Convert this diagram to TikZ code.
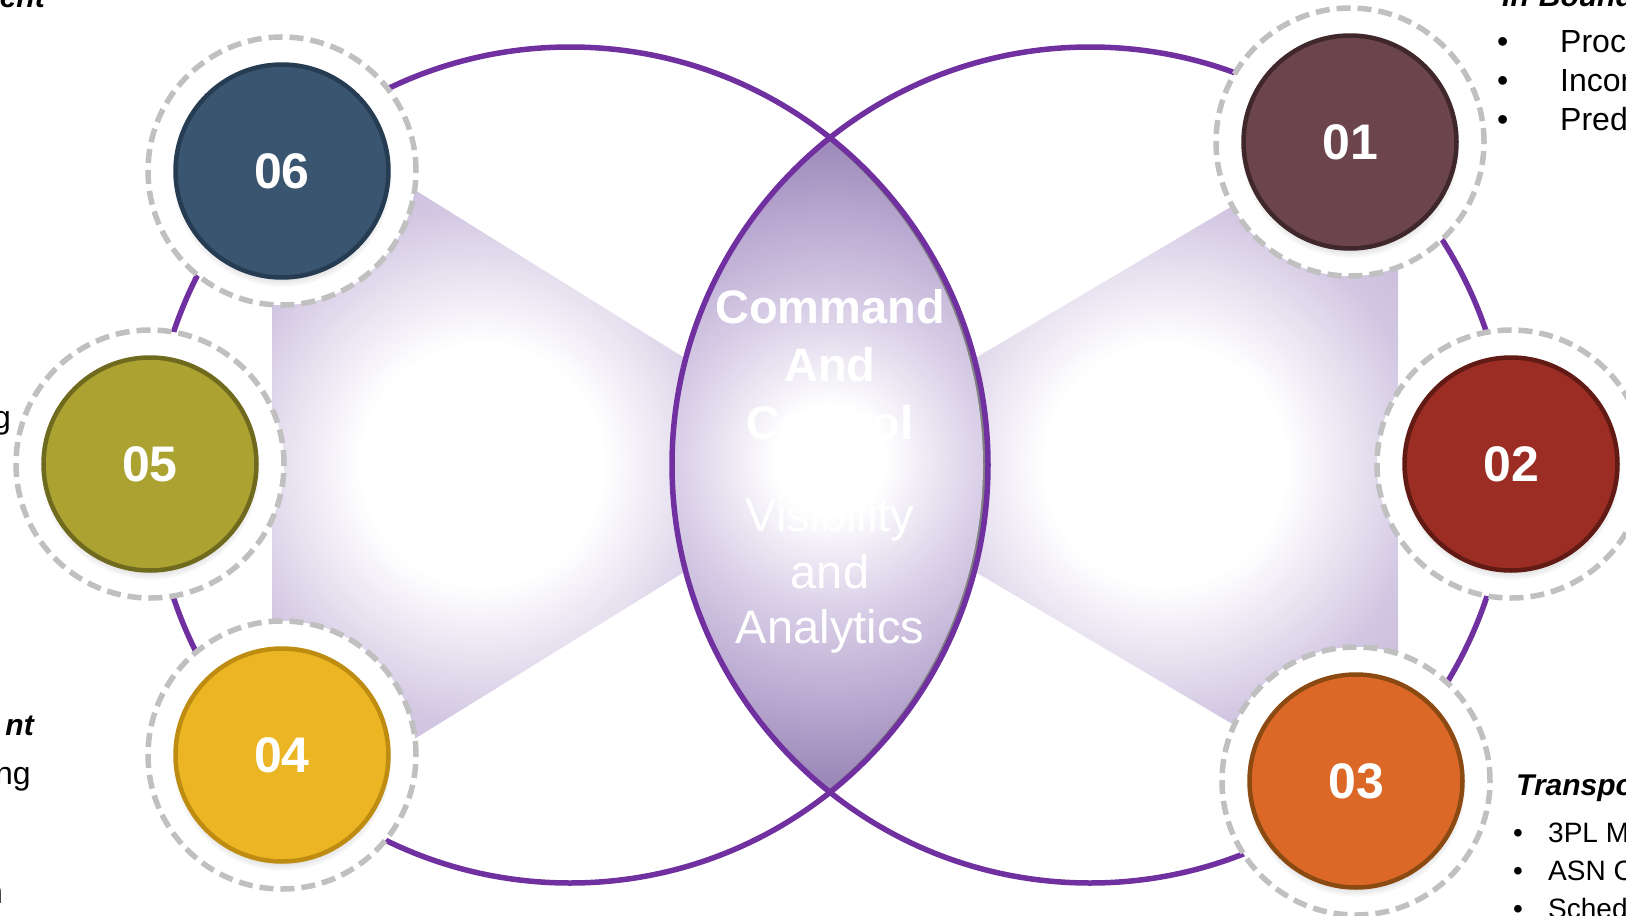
\documentclass[tikz,border=0pt]{standalone}
\usepackage{fontspec}
\setmainfont{Liberation Sans}
\usetikzlibrary{shadows,fadings}
\definecolor{purp}{HTML}{7030A0}
\definecolor{ringgray}{HTML}{C0C0C0}
\definecolor{lensgray}{HTML}{808080}
\definecolor{lensA}{HTML}{DAD0E8}
\definecolor{lensB}{HTML}{B9A8D0}
\definecolor{lensC}{HTML}{9480B3}
\definecolor{trapA}{HTML}{ECE7F3}
\definecolor{trapB}{HTML}{D2C7E2}
\definecolor{trapC}{HTML}{BBAAD1}
\definecolor{cA}{HTML}{6B454B}\definecolor{cAb}{HTML}{40272B}
\definecolor{cB}{HTML}{9C2D24}\definecolor{cBb}{HTML}{611A14}
\definecolor{cC}{HTML}{DC6828}\definecolor{cCb}{HTML}{8B4A12}
\definecolor{cD}{HTML}{EBB524}\definecolor{cDb}{HTML}{BE8C10}
\definecolor{cE}{HTML}{ABA232}\definecolor{cEb}{HTML}{6F6A1E}
\definecolor{cF}{HTML}{3A5570}\definecolor{cFb}{HTML}{263C52}
\pgfdeclareradialshading{lensshade}{\pgfpoint{0bp}{0bp}}{color(0bp)=(white); color(4bp)=(white); color(11bp)=(lensA); color(18bp)=(lensB); color(25bp)=(lensC); color(50bp)=(lensC)}
\pgfdeclareradialshading{trapshade}{\pgfpoint{0bp}{0bp}}{color(0bp)=(white); color(7bp)=(white); color(10.5bp)=(trapA); color(15bp)=(trapB); color(25bp)=(trapC); color(50bp)=(trapC)}
\begin{document}
\begin{tikzpicture}[x=1pt,y=-1pt,
  ring/.style={circle, draw=ringgray, fill=white, line width=5.5pt, dash pattern=on 14pt off 7pt, minimum size=268pt, inner sep=0pt},
  numcirc/.style={circle, line width=4.5pt, minimum size=213pt, inner sep=0pt, text=white,
    font=\fontsize{50}{60}\selectfont\bfseries,
    circular drop shadow={shadow xshift=0pt, shadow yshift=-6pt, shadow scale=1.03, opacity=0.45}},
  big/.style={draw=purp, line width=5.5pt},
  lenstitle/.style={text=white, font=\fontsize{47}{56}\selectfont\bfseries, inner sep=0pt, anchor=base},
  lenssub/.style={text=white, font=\fontsize{47}{56}\selectfont, inner sep=0pt, anchor=base},
  side/.style={text=black, font=\fontsize{32}{38}\selectfont, inner sep=0pt},
  sidesmall/.style={text=black, font=\fontsize{28}{34}\selectfont, inner sep=0pt},
  sidehead/.style={text=black, font=\fontsize{30}{36}\selectfont\bfseries\itshape, inner sep=0pt},
]
\useasboundingbox (0,0) rectangle (1626,916);
\clip (0,0) rectangle (1626,916);

% shaded bow-tie shapes
\begin{scope}
  \clip (272,101) -- (720,380) -- (720,550) -- (272,827) -- cycle;
  \shade[shading=trapshade] (482,465) circle (430pt);
\end{scope}
\begin{scope}
  \clip (1398,108) -- (940,379) -- (940,551) -- (1398,822) -- cycle;
  \shade[shading=trapshade] (1165,465) circle (430pt);
\end{scope}

% lens
\begin{scope}
  \clip (570,465) circle (418pt);
  \clip (1090,465) circle (418pt);
  \fill[lensgray] (600,100) rectangle (1060,830);
  \begin{scope}[xshift=-5pt]
    \clip (570,465) circle (418pt);
    \clip (1090,465) circle (418pt);
    \shade[shading=lensshade] (835,460) circle (340pt);
  \end{scope}
\end{scope}

% big circles
\coordinate (lc) at (570,465);
\coordinate (rc) at (1090,465);
\draw[big] (lc) circle (418pt);
\draw[big] (rc) circle (418pt);

% lens text
\node[lenstitle] (t1) at (830,323) {Command};
\node[lenstitle] (t2) at (830,381) {And};
\node[lenstitle] (t3) at (830,439) {Control};
\node[lenssub] (s1) at (830,531) {Visibility};
\node[lenssub] (s2) at (830,588) {and};
\node[lenssub] (s3) at (830,643) {Analytics};

% rings
\node[ring] (r1) at (1350,142) {};
\node[ring] (r2) at (1511,464) {};
\node[ring] (r3) at (1356,781) {};
\node[ring] (r4) at (282,755) {};
\node[ring] (r5) at (150,464) {};
\node[ring] (r6) at (282,171) {};

% numbered circles
\node[numcirc, fill=cA, draw=cAb] (n1) at (r1) {01};
\node[numcirc, fill=cB, draw=cBb] (n2) at (r2) {02};
\node[numcirc, fill=cC, draw=cCb] (n3) at (r3) {03};
\node[numcirc, fill=cD, draw=cDb] (n4) at (r4) {04};
\node[numcirc, fill=cE, draw=cEb] (n5) at (r5) {05};
\node[numcirc, fill=cF, draw=cFb] (n6) at (r6) {06};

% side texts (cut by the picture edge, as in the reference)
\node[sidehead, anchor=base east] (h6) at (45,7) {ent};
\node[side, anchor=base east] (l5) at (11,428) {g};
\node[sidehead, anchor=base east] (h4) at (34,735) {nt};
\node[side, anchor=base east] (l4a) at (31,784) {ng};
\node[side, anchor=base east] (l4b) at (3,903) {n};

\node[sidehead, anchor=base west] (h1) at (1502,6) {In-Bound};
\node[side, anchor=base west] (b1a) at (1497,52) {•};
\node[side, anchor=base west] (p1a) at (1560,52) {Proc};
\node[side, anchor=base west] (b1b) at (1497,91) {•};
\node[side, anchor=base west] (p1b) at (1560,91) {Incor};
\node[side, anchor=base west] (b1c) at (1497,130) {•};
\node[side, anchor=base west] (p1c) at (1560,130) {Pred};

\node[sidehead, anchor=base west] (h3) at (1516,795) {Transpo};
\node[sidesmall, anchor=base west] (b3a) at (1513,842) {•};
\node[sidesmall, anchor=base west] (p3a) at (1548,842) {3PL M};
\node[sidesmall, anchor=base west] (b3b) at (1513,880) {•};
\node[sidesmall, anchor=base west] (p3b) at (1548,880) {ASN C};
\node[sidesmall, anchor=base west] (b3c) at (1513,918) {•};
\node[sidesmall, anchor=base west] (p3c) at (1548,918) {Sched};
\end{tikzpicture}
\end{document}
